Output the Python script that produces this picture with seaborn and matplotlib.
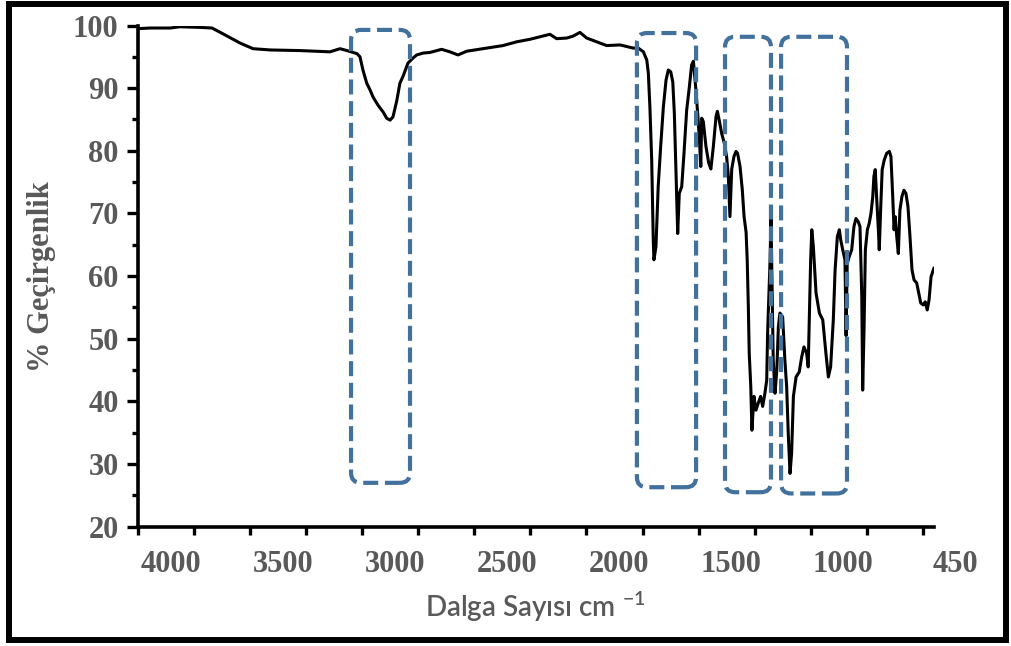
import matplotlib.pyplot as plt
import seaborn as sns
from matplotlib.patches import FancyBboxPatch, Rectangle
from matplotlib.ticker import MultipleLocator

# FTIR spectrum
wavenumber = [4000, 3946, 3857, 3813, 3724, 3670, 3612, 3545, 3487, 3411,
              3278, 3144, 3099, 3068, 3023, 3010, 2997, 2980, 2965, 2952,
              2930, 2907, 2891, 2876, 2863, 2846, 2832, 2818, 2796, 2774,
              2757, 2729, 2698, 2646, 2609, 2573, 2534, 2445, 2372, 2311,
              2252, 2207, 2163, 2133, 2088, 2060, 2029, 1999, 1954, 1910,
              1850, 1792, 1769, 1746, 1731, 1724, 1717, 1709, 1705, 1702,
              1699, 1690, 1680, 1669, 1657, 1645, 1635, 1624, 1615, 1608,
              1602, 1598, 1593, 1586, 1575, 1565, 1553, 1541, 1531, 1523,
              1513, 1504, 1497, 1490, 1486, 1479, 1467, 1455, 1445, 1434,
              1422, 1416, 1408, 1397, 1385, 1375, 1367, 1360, 1352, 1342,
              1333, 1326, 1315, 1305, 1297, 1288, 1283, 1278, 1274, 1267,
              1262, 1253, 1244, 1234, 1223, 1214, 1204, 1196, 1192, 1186,
              1181, 1177, 1172, 1167, 1159, 1151, 1144, 1137, 1125, 1115,
              1107, 1100, 1092, 1085, 1077, 1065, 1051, 1040, 1030, 1018,
              1011, 1006, 1000, 995, 988, 976, 961, 946, 932, 921,
              911, 899, 891, 881, 872, 866, 857, 847, 842, 837,
              828, 817, 807, 798, 788, 780, 772, 768, 762, 756,
              747, 739, 731, 723, 718, 712, 706, 698, 694, 688,
              681, 672, 661, 649, 642, 634, 628, 623, 616, 609,
              602, 593, 584, 575, 566, 557, 548, 539, 527, 518,
              509, 498, 489, 480, 472, 463, 453, 450]
transmittance = [99.5, 99.6, 99.6, 99.8, 99.7, 99.6, 98.5, 97.2, 96.3, 96.1,
                 96.0, 95.8, 96.3, 96.0, 95.5, 95.0, 92.9, 90.8, 89.7, 88.6,
                 87.3, 86.2, 85.2, 84.9, 85.4, 88.0, 90.8, 91.9, 94.0, 94.8,
                 95.3, 95.6, 95.7, 96.2, 95.8, 95.3, 95.9, 96.4, 96.8, 97.4,
                 97.8, 98.2, 98.6, 97.9, 98.0, 98.3, 98.9, 98.0, 97.4, 96.8,
                 96.9, 96.4, 96.4, 95.8, 94.5, 92.4, 87.0, 78.5, 71.1, 65.8,
                 62.6, 64.7, 74.3, 80.7, 87.0, 91.3, 92.9, 92.6, 91.0, 86.0,
                 78.5, 73.2, 66.8, 73.2, 74.3, 79.6, 86.5, 90.2, 93.7, 94.3,
                 90.2, 86.0, 82.3, 77.5, 85.2, 84.7, 80.7, 78.1, 77.1, 80.7,
                 85.5, 86.3, 84.9, 82.8, 81.2, 79.1, 75.9, 69.5, 77.1, 79.1,
                 79.9, 79.6, 77.5, 73.8, 69.5, 67.0, 62.6, 55.1, 47.7, 42.3,
                 35.4, 40.8, 38.6, 39.7, 40.8, 39.2, 41.3, 43.4, 50.9, 57.3,
                 62.6, 69.5, 58.3, 46.6, 41.3, 45.0, 51.9, 54.1, 53.5, 46.6,
                 42.3, 34.9, 28.5, 31.7, 40.8, 43.9, 44.7, 47.1, 48.7, 47.7,
                 45.5, 53.0, 62.6, 67.4, 64.7, 57.3, 54.1, 53.0, 47.7, 43.9,
                 45.5, 53.0, 61.0, 66.3, 67.4, 65.8, 64.2, 62.6, 50.5, 62.0,
                 63.1, 64.2, 67.9, 69.2, 68.7, 67.9, 56.7, 41.8, 51.4, 64.2,
                 67.4, 68.4, 70.0, 72.7, 75.9, 77.0, 72.7, 67.4, 64.2, 70.5,
                 77.0, 78.5, 79.6, 79.9, 79.1, 72.7, 67.4, 69.5, 66.3, 63.6,
                 70.5, 72.7, 73.7, 73.2, 71.1, 66.3, 61.0, 59.4, 58.9, 57.3,
                 55.7, 55.4, 55.9, 54.6, 56.2, 59.9, 61.0, 61.3]

# dashed highlight boxes (cm-1 range and % range)
box_high = [3050, 1775, 1382, 1132]
box_low = [2787, 1511, 1177, 838]
box_bottom = [27.0, 26.3, 25.5, 25.3]
box_top = [99.3, 98.8, 98.2, 98.2]

y_ticks = [20, 30, 40, 50, 60, 70, 80, 90, 100]
x_tick_text = ["4000", "3500", "3000", "2500", "2000", "1500", "1000", "450"]
x_tick_text_pos = [3855, 3355, 2855, 2355, 1855, 1355, 855, 355]

sns.set_style("ticks")
plt.rcParams["font.family"] = ["Liberation Serif", "DejaVu Serif"]
plt.rcParams["mathtext.default"] = "regular"

gray = "#595959"
blue = "#41719c"

fig = plt.figure(figsize=(10.12, 6.46), dpi=100)
ax = fig.add_axes([0.1364, 0.1847, 0.7865, 0.7758])

sns.lineplot(x=wavenumber, y=transmittance, color="black", lw=2.2,
             estimator=None, sort=False, ax=ax)

ax.set_xlim(4000, 450)
ax.set_ylim(20, 100)

sns.despine(ax=ax)
for side in ["left", "bottom"]:
    ax.spines[side].set_linewidth(2.6)
    ax.spines[side].set_color("black")

# x axis: tick marks every 250, labels sit between them
ax.xaxis.set_major_locator(MultipleLocator(250))
ax.tick_params(axis="x", which="major", length=6, width=2.4, color="black",
               labelbottom=False)
for pos, txt in zip(x_tick_text_pos, x_tick_text):
    ax.text(pos, -0.076, txt, transform=ax.get_xaxis_transform(),
            ha="center", va="center", fontsize=22, fontweight="bold",
            color=gray, clip_on=False)

ax.set_yticks(y_ticks)
ax.set_yticklabels([str(v) for v in y_ticks], fontweight="bold")
ax.yaxis.set_minor_locator(MultipleLocator(5))
ax.tick_params(axis="y", which="major", length=8, width=2.4, color="black",
               labelsize=22, labelcolor=gray, pad=6)
ax.tick_params(axis="y", which="minor", length=4, width=2.4, color="black")

ax.set_xlabel("Dalga Sayısı cm $^{-1}$", family=["Lato", "DejaVu Sans"],
              fontsize=20, fontweight="semibold", color=gray, va="center")
ax.xaxis.set_label_coords(0.499, -0.16)
ax.set_ylabel("% Geçirgenlik", fontsize=22, fontweight="bold", color=gray,
              va="center")
ax.yaxis.set_label_coords(-0.121, 0.5)

# rounded dashed boxes
for hi, lo, b, t in zip(box_high, box_low, box_bottom, box_top):
    box = FancyBboxPatch((lo, b), hi - lo, t - b,
                         boxstyle="round,pad=0,rounding_size=45",
                         mutation_aspect=0.0358, fill=False, ec=blue,
                         lw=3, ls=(0, (3.6, 1.6)), zorder=3, clip_on=False)
    ax.add_patch(box)

# outer frame
fig.add_artist(Rectangle((0.0089, 0.0093), 0.9852, 0.9845,
                         transform=fig.transFigure, fill=False,
                         lw=4.3, ec="black"))

fig.savefig("out.png", dpi=100)
